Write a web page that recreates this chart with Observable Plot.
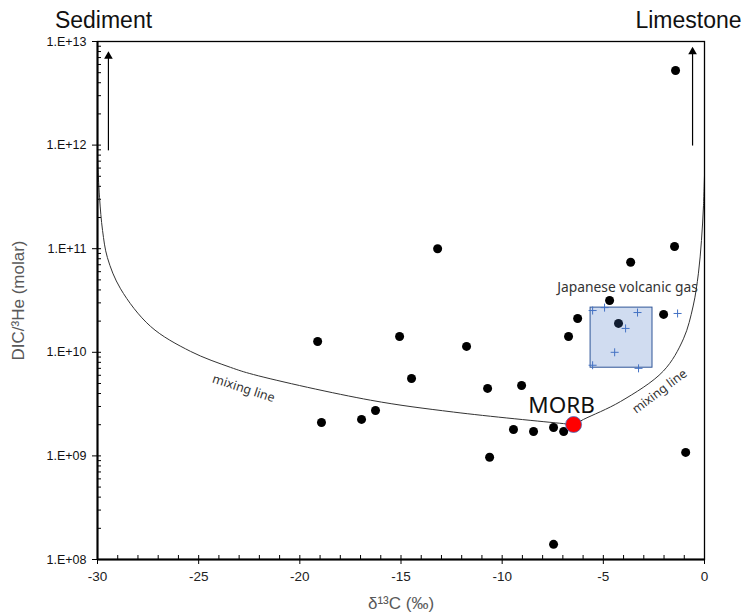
<!DOCTYPE html>
<html>
<head>
<meta charset="utf-8">
<script src="https://cdn.jsdelivr.net/npm/d3@7"></script>
<script src="https://cdn.jsdelivr.net/npm/@observablehq/plot@0.6"></script>
<style>
  html, body { margin: 0; padding: 0; background: white; }
  #chart { width: 745px; height: 614px; }
</style>
</head>
<body>
<div id="chart"></div>
<script>
// ---- Data ----
const sampleX = [-1.43, -13.19, -1.48, -3.65, -4.69, -2.02, -6.27, -4.25, -6.72, -15.07, -19.12, -11.76,
                 -14.48, -10.72, -9.04, -16.26, -16.95, -18.93, -9.44, -8.45, -7.46, -6.96, -10.62, -0.93, -7.46];
const sampleY = [5.25e12, 1.0e11, 1.05e11, 7.4e10, 3.16e10, 2.32e10, 2.12e10, 1.9e10, 1.42e10, 1.42e10, 1.27e10, 1.14e10,
                 5.58e9, 4.48e9, 4.78e9, 2.74e9, 2.25e9, 2.1e9, 1.8e9, 1.72e9, 1.88e9, 1.72e9, 0.97e9, 1.08e9, 1.4e8];

const gasX = [-5.53, -4.94, -3.31, -3.90, -4.44, -5.53, -3.26, -1.33];
const gasY = [2.53e10, 2.7e10, 2.42e10, 1.7e10, 1.0e10, 7.5e9, 7.0e9, 2.37e10];

const gasBoxX = [-5.63, -2.57];
const gasBoxY = [7.1e9, 2.7e10];

const morbX = [-6.47];
const morbY = [2.01e9];

const mixX = [-30, -29.90, -29.75, -29.51, -28.86, -27.38, -25.40, -23.43, -22.29, -16.51, -12.41, -6.97, -6.47,
              -5.98, -4.15, -2.03, -1.04, -0.56, -0.30, -0.15, -0.05, 0];
const mixY = [7.6e11, 3.12e11, 1.5e11, 8.2e10, 4.1e10, 1.78e10, 1.02e10, 7.16e9, 6.1e9, 3.45e9, 2.65e9, 2.05e9, 2.01e9,
              2.25e9, 3.35e9, 6.6e9, 1.35e10, 2.8e10, 5.8e10, 1.2e11, 2.6e11, 5.1e11];

const arrowX = [-29.46, -0.59];
const arrowY1 = [8.9e11, 9.9e11];
const arrowY2 = [7.7e12, 8.5e12];

const mixLabelX = [-22.78, -2.22];
const mixLabelY = [4.48e9, 4.19e9];
const mixLabelAngle = [18, -37];

const xTicks = [-30, -25, -20, -15, -10, -5, 0];
const yTicks = [1e8, 1e9, 1e10, 1e11, 1e12, 1e13];
const yTickLabels = ["1.E+08", "1.E+09", "1.E+10", "1.E+11", "1.E+12", "1.E+13"];

// ---- Derived tables ----
const samples = sampleX.map((x, i) => ({x, y: sampleY[i]}));
const gas = gasX.map((x, i) => ({x, y: gasY[i]}));
const box = [{x1: gasBoxX[0], x2: gasBoxX[1], y1: gasBoxY[0], y2: gasBoxY[1]}];
const morb = morbX.map((x, i) => ({x, y: morbY[i]}));
const mix = mixX.map((x, i) => ({x, y: mixY[i]}));
const arrows = arrowX.map((x, i) => ({x, y1: arrowY1[i], y2: arrowY2[i]}));
const mixLabels = mixLabelX.map((x, i) => ({x, y: mixLabelY[i], a: mixLabelAngle[i]}));

const minorX = d3.range(-29, 0).filter(v => v % 5 !== 0);
const minorY = [];
for (let e = 8; e < 13; e++) for (let m = 2; m <= 9; m++) minorY.push(m * Math.pow(10, e));

const labelFont = "Liberation Sans, Arial, sans-serif";
const annoFont = "Noto Sans, Open Sans, sans-serif";

const chart = Plot.plot({
  width: 745,
  height: 614,
  marginLeft: 97,
  marginRight: 41,
  marginTop: 41,
  marginBottom: 55,
  x: {domain: [-30, 0]},
  y: {type: "log", domain: [1e8, 1e13]},
  style: {fontFamily: labelFont, fontSize: "13px", color: "#222", background: "white", overflow: "visible"},
  marks: [
    // axes
    Plot.axisX({ticks: xTicks, tickSize: 5, tickPadding: 7, tickFormat: d => String(d), label: null, fontSize: 13.5, fill: "#222", stroke: "#000"}),
    Plot.axisX({ticks: xTicks, tickSize: -4, tickFormat: () => "", label: null, stroke: "#000"}),
    Plot.axisX({ticks: minorX, tickSize: -4, tickFormat: () => "", label: null, stroke: "#000"}),
    Plot.axisY({ticks: yTicks, tickSize: 5, tickPadding: 6, tickFormat: d => yTickLabels[yTicks.indexOf(d)], label: null, fontSize: 12.5, fill: "#111", stroke: "#000"}),
    Plot.axisY({ticks: yTicks, tickSize: -4, tickFormat: () => "", label: null, stroke: "#000"}),
    Plot.axisY({ticks: minorY, tickSize: -4, tickFormat: () => "", label: null, stroke: "#000"}),
    // axis titles
    Plot.text(["DIC/³He (molar)"], {frameAnchor: "left", textAnchor: "middle", lineAnchor: "middle", rotate: -90, dx: -79, fontSize: 17, fill: "#595959", text: d => d}),
    Plot.text(["δ¹³C (‰)"], {frameAnchor: "bottom", textAnchor: "middle", lineAnchor: "middle", dy: 44, fontSize: 17, fill: "#595959", text: d => d}),
    // end-member labels
    Plot.text(["Sediment"], {frameAnchor: "top-left", textAnchor: "middle", lineAnchor: "middle", dx: 6, dy: -21, fontSize: 23, fill: "#111", text: d => d}),
    Plot.text(["Limestone"], {frameAnchor: "top-right", textAnchor: "middle", lineAnchor: "middle", dx: -16, dy: -21, fontSize: 23, fill: "#111", text: d => d}),
    // mixing line
    Plot.line(mix, {x: "x", y: "y", stroke: "#333", strokeWidth: 1, curve: "catmull-rom"}),
    Plot.text(mixLabels, {x: "x", y: "y", rotate: "a", text: () => "mixing line", fontSize: 12.5, fill: "#333", fontFamily: annoFont}),
    // arrows
    Plot.link(arrows, {x1: "x", x2: "x", y1: "y1", y2: "y2", stroke: "#000", strokeWidth: 1.2}),
    Plot.dot(arrows, {x: "x", y: "y2", symbol: "triangle", r: 3.2, fill: "#000", dy: 3}),
    // samples
    Plot.dot(samples, {x: "x", y: "y", r: 4.5, fill: "#000"}),
    // Japanese volcanic gas box
    Plot.rect(box, {x1: "x1", x2: "x2", y1: "y1", y2: "y2", fill: "#4472c4", fillOpacity: 0.25, stroke: "#2f5597", strokeWidth: 1}),
    Plot.dot(gas, {x: "x", y: "y", symbol: "plus", r: 2.7, stroke: "#4472c4", strokeWidth: 1}),
    Plot.text(box, {x: d => (d.x1 + d.x2) / 2, y: "y2", dy: -20, dx: 6, text: () => "Japanese volcanic gas", fontSize: 13.8, fill: "#333", fontFamily: annoFont}),
    // MORB
    Plot.dot(morb, {x: "x", y: "y", r: 8, fill: "#ff0000", stroke: "#4472c4", strokeWidth: 0.8}),
    Plot.text(morb, {x: "x", y: "y", dx: -12, dy: -19, text: () => "MORB", fontSize: 22.5, fill: "#111", fontFamily: annoFont}),
    // frame
    Plot.frame({stroke: "#000", strokeWidth: 1.3}),
    Plot.ruleX([-30], {stroke: "#000", strokeWidth: 2}),
    Plot.ruleY([1e8], {stroke: "#000", strokeWidth: 2})
  ]
});
document.getElementById("chart").append(chart);
</script>
</body>
</html>
